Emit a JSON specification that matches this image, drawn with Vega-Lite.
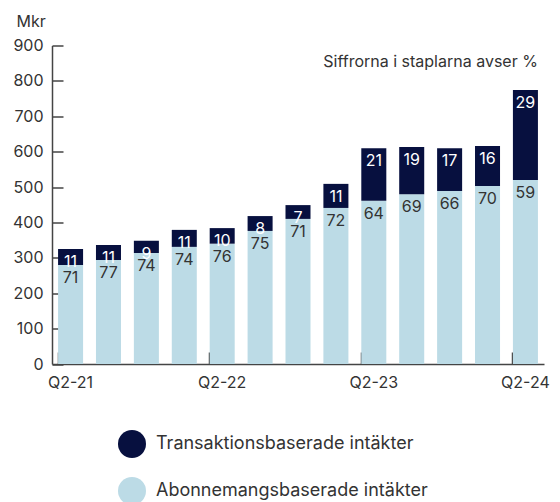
{
  "$schema": "https://vega.github.io/schema/vega-lite/v6.json",
  "autosize": "none",
  "width": 492,
  "height": 318.5,
  "padding": {"left": 52, "top": 45.5, "right": 16, "bottom": 138},
  "background": "white",
  "config": {
    "font": "Inter",
    "view": {"stroke": null}
  },
  "datasets": {
    "bars": [
      {"q": "Q2-21", "typ": "Abonnemangsbaserade intäkter", "ord": 1, "value": 280, "pct": "71"},
      {"q": "Q2-21", "typ": "Transaktionsbaserade intäkter", "ord": 2, "value": 45, "pct": "11"},
      {"q": "Q3-21", "typ": "Abonnemangsbaserade intäkter", "ord": 1, "value": 294, "pct": "77"},
      {"q": "Q3-21", "typ": "Transaktionsbaserade intäkter", "ord": 2, "value": 42, "pct": "11"},
      {"q": "Q4-21", "typ": "Abonnemangsbaserade intäkter", "ord": 1, "value": 314, "pct": "74"},
      {"q": "Q4-21", "typ": "Transaktionsbaserade intäkter", "ord": 2, "value": 34, "pct": "9"},
      {"q": "Q1-22", "typ": "Abonnemangsbaserade intäkter", "ord": 1, "value": 331, "pct": "74"},
      {"q": "Q1-22", "typ": "Transaktionsbaserade intäkter", "ord": 2, "value": 48, "pct": "11"},
      {"q": "Q2-22", "typ": "Abonnemangsbaserade intäkter", "ord": 1, "value": 340, "pct": "76"},
      {"q": "Q2-22", "typ": "Transaktionsbaserade intäkter", "ord": 2, "value": 44, "pct": "10"},
      {"q": "Q3-22", "typ": "Abonnemangsbaserade intäkter", "ord": 1, "value": 376, "pct": "75"},
      {"q": "Q3-22", "typ": "Transaktionsbaserade intäkter", "ord": 2, "value": 42, "pct": "8"},
      {"q": "Q4-22", "typ": "Abonnemangsbaserade intäkter", "ord": 1, "value": 410, "pct": "71"},
      {"q": "Q4-22", "typ": "Transaktionsbaserade intäkter", "ord": 2, "value": 39, "pct": "7"},
      {"q": "Q1-23", "typ": "Abonnemangsbaserade intäkter", "ord": 1, "value": 441, "pct": "72"},
      {"q": "Q1-23", "typ": "Transaktionsbaserade intäkter", "ord": 2, "value": 68, "pct": "11"},
      {"q": "Q2-23", "typ": "Abonnemangsbaserade intäkter", "ord": 1, "value": 461, "pct": "64"},
      {"q": "Q2-23", "typ": "Transaktionsbaserade intäkter", "ord": 2, "value": 149, "pct": "21"},
      {"q": "Q3-23", "typ": "Abonnemangsbaserade intäkter", "ord": 1, "value": 480, "pct": "69"},
      {"q": "Q3-23", "typ": "Transaktionsbaserade intäkter", "ord": 2, "value": 133, "pct": "19"},
      {"q": "Q4-23", "typ": "Abonnemangsbaserade intäkter", "ord": 1, "value": 489, "pct": "66"},
      {"q": "Q4-23", "typ": "Transaktionsbaserade intäkter", "ord": 2, "value": 121, "pct": "17"},
      {"q": "Q1-24", "typ": "Abonnemangsbaserade intäkter", "ord": 1, "value": 503, "pct": "70"},
      {"q": "Q1-24", "typ": "Transaktionsbaserade intäkter", "ord": 2, "value": 113, "pct": "16"},
      {"q": "Q2-24", "typ": "Abonnemangsbaserade intäkter", "ord": 1, "value": 520, "pct": "59"},
      {"q": "Q2-24", "typ": "Transaktionsbaserade intäkter", "ord": 2, "value": 254, "pct": "29"}
    ],
    "note": [
      {"q": "Q2-24", "note": "Siffrorna i staplarna avser %", "value": 853, "ord": 1}
    ]
  },
  "encoding": {
    "x": {
      "field": "q",
      "type": "nominal",
      "sort": null,
      "scale": {"paddingInner": 0.34, "paddingOuter": 0.16},
      "axis": {
        "title": null,
        "values": ["Q2-21", "Q2-22", "Q2-23", "Q2-24"],
        "bandPosition": 0,
        "labelAngle": 0,
        "labelFontSize": 16,
        "labelColor": "#333333",
        "labelFont": "Inter",
        "labelPadding": 22,
        "tickSize": -12,
        "tickColor": "#444444",
        "tickWidth": 1.5,
        "domainColor": "#444444",
        "domainWidth": 1.5,
        "grid": false
      }
    },
    "y": {
      "field": "value",
      "type": "quantitative",
      "stack": "zero",
      "scale": {"domain": [0, 900], "nice": false},
      "axis": {
        "title": "Mkr",
        "titleAngle": 0,
        "titleAlign": "left",
        "titleBaseline": "alphabetic",
        "titleX": -36,
        "titleY": -19.5,
        "titleFontSize": 16,
        "titleFontWeight": "normal",
        "titleColor": "#333333",
        "titleFont": "Inter",
        "values": [0, 100, 200, 300, 400, 500, 600, 700, 800, 900],
        "labelFontSize": 16,
        "labelColor": "#333333",
        "labelFont": "Inter",
        "labelPadding": 20,
        "tickSize": -11,
        "tickColor": "#444444",
        "tickWidth": 1.5,
        "domainColor": "#444444",
        "domainWidth": 1.5,
        "grid": false
      }
    },
    "order": {"field": "ord", "type": "quantitative"}
  },
  "layer": [
    {
      "data": {"name": "bars"},
      "mark": {"type": "bar"},
      "encoding": {
        "color": {
          "field": "typ",
          "type": "nominal",
          "scale": {
            "domain": ["Transaktionsbaserade intäkter", "Abonnemangsbaserade intäkter"],
            "range": ["#07103f", "#bcdbe6"]
          },
          "legend": {
            "title": null,
            "orient": "none",
            "legendX": 66,
            "legendY": 384.5,
            "direction": "vertical",
            "symbolType": "circle",
            "symbolSize": 784,
            "symbolStrokeWidth": 0,
            "symbolOpacity": 1,
            "rowPadding": 19,
            "labelFontSize": 18,
            "labelColor": "#333333",
            "labelFont": "Inter",
            "labelOffset": 10,
            "labelLimit": 400
          }
        }
      }
    },
    {
      "data": {"name": "bars"},
      "mark": {"type": "text", "baseline": "top", "dy": 5, "fontSize": 16, "font": "Inter"},
      "encoding": {
        "text": {"field": "pct"},
        "color": {
          "condition": {"test": "datum.ord === 2", "value": "#ffffff"},
          "value": "#333333"
        }
      }
    },
    {
      "data": {"name": "note"},
      "mark": {"type": "text", "align": "right", "baseline": "middle", "fontSize": 16, "font": "Inter", "color": "#333333", "xOffset": 12.5},
      "encoding": {
        "text": {"field": "note"}
      }
    }
  ]
}
